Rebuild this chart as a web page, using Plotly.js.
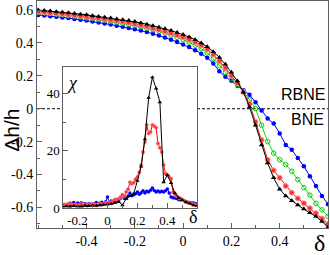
<!DOCTYPE html>
<html>
<head>
<meta charset="utf-8">
<script src="https://cdn.plot.ly/plotly-3.0.1.min.js"></script>
<style>html,body{margin:0;padding:0;background:#fff;}#chart{width:330px;height:255px;}</style>
</head>
<body>
<div id="chart"></div>
<script>
// Main panel: Δh/h versus δ
var delta = [-0.6,-0.575,-0.55,-0.525,-0.5,-0.475,-0.45,-0.425,-0.4,-0.375,-0.35,-0.325,-0.3,-0.275,-0.25,-0.225,-0.2,-0.175,-0.15,-0.125,-0.1,-0.075,-0.05,-0.025,0,0.025,0.05,0.075,0.1,0.125,0.15,0.175,0.2,0.225,0.25,0.275,0.3,0.325,0.35,0.375,0.4,0.425,0.45,0.475,0.5,0.525,0.55,0.575,0.6];
var blackDh = [0.600,0.597,0.594,0.590,0.586,0.583,0.579,0.575,0.571,0.566,0.561,0.556,0.551,0.546,0.541,0.536,0.530,0.522,0.514,0.505,0.496,0.486,0.475,0.463,0.451,0.436,0.420,0.400,0.377,0.347,0.312,0.270,0.222,0.168,0.100,0.010,-0.100,-0.220,-0.330,-0.420,-0.490,-0.530,-0.560,-0.585,-0.610,-0.632,-0.655,-0.685,-0.720];
var redDh = [0.590,0.587,0.583,0.580,0.576,0.572,0.568,0.564,0.560,0.555,0.550,0.545,0.540,0.535,0.529,0.523,0.516,0.508,0.500,0.490,0.480,0.470,0.459,0.447,0.435,0.421,0.405,0.385,0.362,0.330,0.290,0.248,0.200,0.155,0.100,0.030,-0.080,-0.190,-0.310,-0.375,-0.420,-0.470,-0.510,-0.545,-0.575,-0.605,-0.635,-0.668,-0.700];
var greenDh = [0.585,0.582,0.578,0.574,0.570,0.566,0.562,0.557,0.552,0.547,0.542,0.536,0.530,0.524,0.518,0.512,0.505,0.497,0.489,0.480,0.470,0.459,0.447,0.434,0.420,0.404,0.386,0.365,0.340,0.305,0.262,0.220,0.182,0.148,0.105,0.055,0.000,-0.100,-0.200,-0.270,-0.310,-0.340,-0.380,-0.430,-0.480,-0.525,-0.575,-0.615,-0.655];
var blueDh = [0.570,0.567,0.563,0.559,0.555,0.551,0.546,0.541,0.536,0.530,0.524,0.518,0.512,0.505,0.498,0.491,0.484,0.475,0.466,0.456,0.445,0.433,0.420,0.406,0.391,0.375,0.356,0.335,0.310,0.275,0.228,0.195,0.170,0.140,0.112,0.085,0.040,-0.010,-0.060,-0.090,-0.150,-0.220,-0.250,-0.300,-0.350,-0.410,-0.470,-0.530,-0.580];

// Inset: χ versus δ
var insetDeltaCoarse = [-0.3,-0.275,-0.25,-0.225,-0.2,-0.175,-0.15,-0.125,-0.1,-0.075,-0.05,-0.025,0,0.025,0.05,0.075,0.1,0.125,0.15,0.175,0.2,0.225,0.25,0.275,0.3,0.325,0.35,0.375,0.4,0.425,0.45,0.475,0.5,0.525,0.55,0.575,0.6];
var chiBlack = [0.5,0.6,0.5,0.7,0.6,0.5,0.8,0.7,0.9,0.8,1.0,1.1,1.3,1.5,1.8,2.2,1.0,3.2,4.2,5.0,9.5,14.5,24,38.5,45.6,41.7,36.9,9.0,11.5,8.7,5.2,3.5,2.8,2.0,1.6,1.0,0.8];
var insetDeltaFine = [-0.3,-0.2875,-0.275,-0.2625,-0.25,-0.2375,-0.225,-0.2125,-0.2,-0.1875,-0.175,-0.1625,-0.15,-0.1375,-0.125,-0.1125,-0.1,-0.0875,-0.075,-0.0625,-0.05,-0.0375,-0.025,-0.0125,0,0.0125,0.025,0.0375,0.05,0.0625,0.075,0.0875,0.1,0.1125,0.125,0.1375,0.15,0.1625,0.175,0.1875,0.2,0.2125,0.225,0.2375,0.25,0.2625,0.275,0.2875,0.3,0.3125,0.325,0.3375,0.35,0.3625,0.375,0.3875,0.4,0.4125,0.425,0.4375,0.45,0.4625,0.475,0.4875,0.5,0.5125,0.525,0.5375,0.55,0.5625,0.575,0.5875,0.6];
var chiRed = [0.8,1.2,1.0,1.5,1.7,1.1,0.9,1.3,0.8,1.0,1.4,0.9,1.2,0.8,1.1,1.5,1.0,1.3,0.9,1.2,1.6,1.1,1.4,1.8,1.3,2.0,1.6,2.4,2.9,2.3,3.2,3.8,4.5,4.0,5.6,6.5,9.0,8.5,8.8,10.0,10.8,12.5,15.0,19.5,23.0,29.0,26.0,26.5,29.0,28.5,28.0,22.5,21.0,19.5,15.0,12.0,11.5,10.8,10.2,5.5,4.8,4.2,3.6,3.4,2.9,2.5,2.2,1.9,1.7,1.5,1.2,1.0,0.9];
var chiBlue = [0.8,1.2,0.9,1.3,1.1,1.6,1.9,1.4,1.7,1.5,1.8,1.3,1.6,1.2,1.5,1.4,1.3,1.6,1.9,1.4,1.7,2.0,1.5,2.2,3.8,2.0,2.4,1.8,2.6,3.0,2.5,3.4,4.5,3.3,3.5,4.2,5.2,4.3,4.6,5.0,5.6,4.8,5.3,6.0,5.2,5.8,5.6,6.2,7.0,6.1,5.6,5.9,5.6,5.8,5.6,6.0,6.6,5.2,3.8,3.6,3.5,3.3,3.0,2.8,2.8,2.5,2.2,2.0,1.9,1.8,1.7,1.5,1.4];

// Tick labels
var mainXTicks = [-0.4,-0.2,0,0.2,0.4];
var mainXLabels = ['-0.4','-0.2','0','0.2','0.4'];
var mainYTicks = [-0.6,-0.4,-0.2,0,0.2,0.4,0.6];
var mainYLabels = ['-0.6','-0.4','-0.2','0','0.2','0.4','0.6'];
var insetXTicks = [-0.2,0,0.2,0.4];
var insetXLabels = ['-0.2','0','0.2','0.4'];
var insetYTicks = [0,20,40];
var insetYLabels = ['0','20','40'];

var insetDomX = [0.0904, 0.5509];
var insetDomY = [0.0881, 0.7106];
var frameCol = '#606060';
var serif = 'Liberation Serif, Times New Roman, serif';
var sans = 'Liberation Sans, Arial, sans-serif';

var traces = [
  {x: delta, y: blueDh, xaxis:'x', yaxis:'y', mode:'lines+markers', line:{color:'#0000ff', width:1}, marker:{symbol:'circle', size:4.5, color:'#0000ff'}},
  {x: delta, y: greenDh, xaxis:'x', yaxis:'y', mode:'lines+markers', line:{color:'#00e000', width:1}, marker:{symbol:'circle-open', size:4.5, color:'#00d000', line:{width:1}}},
  {x: delta, y: redDh, xaxis:'x', yaxis:'y', mode:'lines+markers', line:{color:'#ff0000', width:1}, marker:{symbol:'circle', size:5, color:'#ff3030', line:{color:'#ff9090', width:1}}},
  {x: delta, y: blackDh, xaxis:'x', yaxis:'y', mode:'lines+markers', line:{color:'#000000', width:1}, marker:{symbol:'triangle-up', size:5, color:'#000000'}},
  {x: insetDeltaFine, y: chiBlue, xaxis:'x2', yaxis:'y2', mode:'lines+markers', line:{color:'#0000ff', width:1}, marker:{symbol:'circle', size:3.5, color:'#0000ff'}},
  {x: insetDeltaFine, y: chiRed, xaxis:'x2', yaxis:'y2', mode:'lines+markers', line:{color:'#ff0000', width:1}, marker:{symbol:'circle', size:3.5, color:'#ff3030', line:{color:'#ff9090', width:0.5}}},
  {x: insetDeltaCoarse, y: chiBlack, xaxis:'x2', yaxis:'y2', mode:'lines+markers', line:{color:'#000000', width:1}, marker:{symbol:'triangle-up', size:4, color:'#000000'}}
];

function axisBase(extra) {
  var a = {
    showline:true, linecolor:frameCol, linewidth:1, mirror:true,
    ticks:'inside', ticklen:5, tickcolor:frameCol, tickwidth:1,
    showgrid:false, zeroline:false, tickmode:'array',
    tickfont:{family:serif, size:14, color:'#000'}
  };
  for (var k in extra) a[k] = extra[k];
  return a;
}

var layout = {
  width:330, height:255,
  margin:{l:37, r:2, t:1, b:27},
  paper_bgcolor:'#fff', plot_bgcolor:'#fff',
  showlegend:false,
  xaxis: axisBase({range:[-0.605,0.6], tickvals:mainXTicks, ticktext:mainXLabels, anchor:'y',
    minor:{tickmode:'linear', tick0:0, dtick:0.1, ticks:'inside', ticklen:3, tickcolor:frameCol, showgrid:false}}),
  yaxis: axisBase({range:[-0.725,0.655], tickvals:mainYTicks, ticktext:mainYLabels, anchor:'x',
    minor:{tickmode:'linear', tick0:0, dtick:0.1, ticks:'inside', ticklen:3, tickcolor:frameCol, showgrid:false}}),
  xaxis2: axisBase({domain:insetDomX, range:[-0.295,0.6], tickvals:insetXTicks, ticktext:insetXLabels, anchor:'y2',
    tickfont:{family:serif, size:13, color:'#000'},
    minor:{tickmode:'linear', tick0:0, dtick:0.1, ticks:'inside', ticklen:3, tickcolor:frameCol, showgrid:false}}),
  yaxis2: axisBase({domain:insetDomY, range:[0,49.3], tickvals:insetYTicks, ticktext:insetYLabels, anchor:'x2',
    tickfont:{family:serif, size:13, color:'#000'},
    minor:{tickmode:'linear', tick0:0, dtick:10, ticks:'inside', ticklen:3, tickcolor:frameCol, showgrid:false}}),
  shapes: [
    {type:'line', xref:'paper', yref:'y', x0:0, x1:1, y0:0, y1:0, layer:'below', line:{color:'#000', width:1, dash:'3px,2px'}},
    {type:'rect', xref:'paper', yref:'paper', x0:insetDomX[0], x1:insetDomX[1], y0:insetDomY[0], y1:insetDomY[1], layer:'below', fillcolor:'#fff', line:{width:0}}
  ],
  annotations: [
    {text:'Δh/h', xref:'paper', yref:'paper', x:-0.088, y:0.43, textangle:-90, showarrow:false, xanchor:'center', yanchor:'middle', font:{family:sans, size:21, color:'#000'}},
    {text:'δ', xref:'paper', yref:'paper', x:0.9725, y:-0.066, showarrow:false, xanchor:'center', yanchor:'middle', font:{family:serif, size:24, color:'#000'}},
    {text:'RBNE', xref:'paper', yref:'paper', x:0.9966, y:0.586, showarrow:false, xanchor:'right', yanchor:'middle', font:{family:sans, size:16, color:'#000'}},
    {text:'BNE', xref:'paper', yref:'paper', x:0.993, y:0.480, showarrow:false, xanchor:'right', yanchor:'middle', font:{family:sans, size:16, color:'#000'}},
    {text:'<i>χ</i>', xref:'paper', yref:'paper', x:0.1237, y:0.639, showarrow:false, xanchor:'center', yanchor:'middle', font:{family:serif, size:18, color:'#000'}},
    {text:'δ', xref:'paper', yref:'paper', x:0.536, y:0.0485, showarrow:false, xanchor:'center', yanchor:'middle', font:{family:serif, size:18, color:'#000'}}
  ]
};

Plotly.newPlot('chart', traces, layout, {displayModeBar:false, staticPlot:true});
</script>
</body>
</html>
